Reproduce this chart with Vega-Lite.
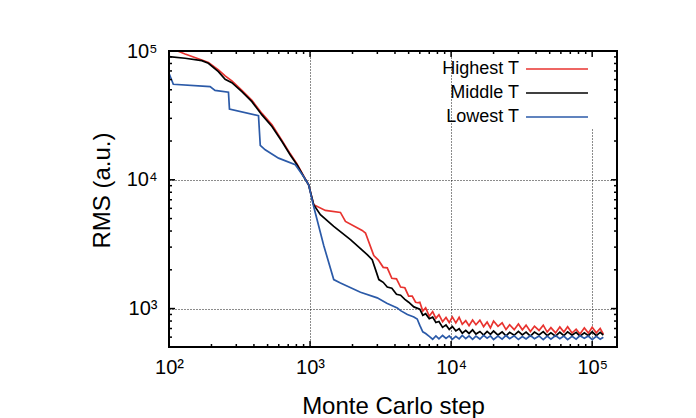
{
"$schema":"https://vega.github.io/schema/vega-lite/v6.json",
"width":448,"height":296,
"autosize":"none",
"padding":{"left":169,"top":51,"right":79,"bottom":71},
"background":"white",
"config":{"view":{"stroke":"#000","strokeWidth":2},"font":"Liberation Sans"},
"datasets":{"curves":[
{"s":"Highest T","x":115,"y":100000},{"s":"Highest T","x":130,"y":94800},{"s":"Highest T","x":170.8,"y":85200},{"s":"Highest T","x":190.2,"y":81400},{"s":"Highest T","x":224,"y":71250},{"s":"Highest T","x":250,"y":64000},{"s":"Highest T","x":279,"y":58550},{"s":"Highest T","x":328.6,"y":49400},{"s":"Highest T","x":387,"y":41330},{"s":"Highest T","x":456,"y":32770},{"s":"Highest T","x":537,"y":26700},{"s":"Highest T","x":632,"y":20240},{"s":"Highest T","x":724,"y":15900},{"s":"Highest T","x":808,"y":13300},{"s":"Highest T","x":900,"y":10700},{"s":"Highest T","x":977,"y":9140},{"s":"Highest T","x":1061,"y":6400},{"s":"Highest T","x":1284,"y":5780},{"s":"Highest T","x":1642,"y":5577},{"s":"Highest T","x":1782,"y":4746},{"s":"Highest T","x":2342,"y":4045},{"s":"Highest T","x":2472,"y":3862},{"s":"Highest T","x":2831,"y":2576},{"s":"Highest T","x":3050,"y":2380},{"s":"Highest T","x":3300,"y":2090},{"s":"Highest T","x":3526,"y":2070},{"s":"Highest T","x":3800,"y":1720},{"s":"Highest T","x":4100,"y":1700},{"s":"Highest T","x":4385,"y":1470},{"s":"Highest T","x":4700,"y":1450},{"s":"Highest T","x":5000,"y":1250},{"s":"Highest T","x":5300,"y":1250},{"s":"Highest T","x":5600,"y":1120},{"s":"Highest T","x":5800,"y":1110},
{"s":"Highest T","x":6000,"y":1118},{"s":"Highest T","x":6300,"y":955},{"s":"Highest T","x":6600,"y":1014},{"s":"Highest T","x":7000,"y":870},{"s":"Highest T","x":7400,"y":947},{"s":"Highest T","x":7800,"y":839},{"s":"Highest T","x":8200,"y":896},{"s":"Highest T","x":8700,"y":790},{"s":"Highest T","x":9200,"y":852},{"s":"Highest T","x":9700,"y":779},{"s":"Highest T","x":10200,"y":862},{"s":"Highest T","x":10800,"y":774},{"s":"Highest T","x":11400,"y":856},{"s":"Highest T","x":12000,"y":755},{"s":"Highest T","x":12700,"y":805},{"s":"Highest T","x":13400,"y":737},{"s":"Highest T","x":14200,"y":816},{"s":"Highest T","x":15000,"y":749},{"s":"Highest T","x":16000,"y":813},{"s":"Highest T","x":17000,"y":724},{"s":"Highest T","x":18000,"y":787},{"s":"Highest T","x":19000,"y":707},{"s":"Highest T","x":20000,"y":800},{"s":"Highest T","x":21500,"y":727},{"s":"Highest T","x":23000,"y":774},{"s":"Highest T","x":24500,"y":687},{"s":"Highest T","x":26000,"y":749},{"s":"Highest T","x":28000,"y":686},{"s":"Highest T","x":30000,"y":760},{"s":"Highest T","x":32000,"y":684},{"s":"Highest T","x":34000,"y":744},{"s":"Highest T","x":36500,"y":663},{"s":"Highest T","x":39000,"y":729},{"s":"Highest T","x":42000,"y":676},{"s":"Highest T","x":45000,"y":743},{"s":"Highest T","x":48000,"y":657},{"s":"Highest T","x":51000,"y":711},{"s":"Highest T","x":55000,"y":647},{"s":"Highest T","x":59000,"y":720},{"s":"Highest T","x":63000,"y":657},{"s":"Highest T","x":67000,"y":723},{"s":"Highest T","x":72000,"y":646},{"s":"Highest T","x":77000,"y":692},{"s":"Highest T","x":82000,"y":635},{"s":"Highest T","x":88000,"y":708},{"s":"Highest T","x":94000,"y":645},{"s":"Highest T","x":100000,"y":717},{"s":"Highest T","x":107000,"y":648},{"s":"Highest T","x":114000,"y":700},{"s":"Highest T","x":120000,"y":633},
{"s":"Middle T","x":100,"y":90400},{"s":"Middle T","x":130,"y":87800},{"s":"Middle T","x":170.8,"y":84100},{"s":"Middle T","x":190.2,"y":80300},{"s":"Middle T","x":224,"y":69100},{"s":"Middle T","x":250,"y":60300},{"s":"Middle T","x":279,"y":56800},{"s":"Middle T","x":328.6,"y":48350},{"s":"Middle T","x":387,"y":40450},{"s":"Middle T","x":456,"y":31900},{"s":"Middle T","x":537,"y":25900},{"s":"Middle T","x":632,"y":19800},{"s":"Middle T","x":724,"y":15600},{"s":"Middle T","x":808,"y":13070},{"s":"Middle T","x":900,"y":10600},{"s":"Middle T","x":977,"y":9140},{"s":"Middle T","x":1061,"y":6400},{"s":"Middle T","x":1184,"y":5355},{"s":"Middle T","x":1472,"y":4345},{"s":"Middle T","x":1934,"y":3428},{"s":"Middle T","x":2542,"y":2622},{"s":"Middle T","x":2758,"y":2399},{"s":"Middle T","x":2912,"y":2006},{"s":"Middle T","x":3074,"y":1679},{"s":"Middle T","x":3300,"y":1600},{"s":"Middle T","x":3526,"y":1470},{"s":"Middle T","x":3800,"y":1440},{"s":"Middle T","x":4100,"y":1290},{"s":"Middle T","x":4385,"y":1270},{"s":"Middle T","x":4700,"y":1180},{"s":"Middle T","x":5000,"y":1120},{"s":"Middle T","x":5445,"y":1030},
{"s":"Middle T","x":6000,"y":989},{"s":"Middle T","x":6300,"y":888},{"s":"Middle T","x":6600,"y":913},{"s":"Middle T","x":7000,"y":834},{"s":"Middle T","x":7400,"y":858},{"s":"Middle T","x":7800,"y":779},{"s":"Middle T","x":8200,"y":793},{"s":"Middle T","x":8700,"y":715},{"s":"Middle T","x":9200,"y":747},{"s":"Middle T","x":9700,"y":689},{"s":"Middle T","x":10200,"y":725},{"s":"Middle T","x":10800,"y":671},{"s":"Middle T","x":11400,"y":697},{"s":"Middle T","x":12000,"y":643},{"s":"Middle T","x":12700,"y":678},{"s":"Middle T","x":13400,"y":641},{"s":"Middle T","x":14200,"y":683},{"s":"Middle T","x":15000,"y":634},{"s":"Middle T","x":16000,"y":664},{"s":"Middle T","x":17000,"y":622},{"s":"Middle T","x":18000,"y":665},{"s":"Middle T","x":19000,"y":631},{"s":"Middle T","x":20000,"y":669},{"s":"Middle T","x":21500,"y":623},{"s":"Middle T","x":23000,"y":660},{"s":"Middle T","x":24500,"y":614},{"s":"Middle T","x":26000,"y":653},{"s":"Middle T","x":28000,"y":620},{"s":"Middle T","x":30000,"y":665},{"s":"Middle T","x":32000,"y":625},{"s":"Middle T","x":34000,"y":657},{"s":"Middle T","x":36500,"y":612},{"s":"Middle T","x":39000,"y":656},{"s":"Middle T","x":42000,"y":624},{"s":"Middle T","x":45000,"y":662},{"s":"Middle T","x":48000,"y":617},{"s":"Middle T","x":51000,"y":649},{"s":"Middle T","x":55000,"y":611},{"s":"Middle T","x":59000,"y":655},{"s":"Middle T","x":63000,"y":616},{"s":"Middle T","x":67000,"y":660},{"s":"Middle T","x":72000,"y":622},{"s":"Middle T","x":77000,"y":654},{"s":"Middle T","x":82000,"y":610},{"s":"Middle T","x":88000,"y":648},{"s":"Middle T","x":94000,"y":616},{"s":"Middle T","x":100000,"y":660},{"s":"Middle T","x":107000,"y":616},{"s":"Middle T","x":114000,"y":654},{"s":"Middle T","x":120000,"y":622},
{"s":"Lowest T","x":100,"y":67200},{"s":"Lowest T","x":107.3,"y":55200},{"s":"Lowest T","x":195.6,"y":52900},{"s":"Lowest T","x":212,"y":49400},{"s":"Lowest T","x":264,"y":47920},{"s":"Lowest T","x":268.3,"y":35380},{"s":"Lowest T","x":431,"y":31450},{"s":"Lowest T","x":443.6,"y":18500},{"s":"Lowest T","x":481,"y":17080},{"s":"Lowest T","x":598,"y":14730},{"s":"Lowest T","x":786,"y":13070},{"s":"Lowest T","x":900,"y":10600},{"s":"Lowest T","x":977,"y":9140},{"s":"Lowest T","x":1061,"y":6210},{"s":"Lowest T","x":1250,"y":3090},{"s":"Lowest T","x":1472,"y":1679},{"s":"Lowest T","x":1642,"y":1582},{"s":"Lowest T","x":2278,"y":1338},{"s":"Lowest T","x":2994,"y":1211},{"s":"Lowest T","x":3500,"y":1100},{"s":"Lowest T","x":4153,"y":1012},{"s":"Lowest T","x":4385,"y":964},{"s":"Lowest T","x":4900,"y":900},{"s":"Lowest T","x":5445,"y":860},{"s":"Lowest T","x":5750,"y":830},
{"s":"Lowest T","x":6000,"y":740},{"s":"Lowest T","x":6300,"y":660},{"s":"Lowest T","x":6600,"y":640},{"s":"Lowest T","x":7000,"y":608},{"s":"Lowest T","x":7400,"y":578},{"s":"Lowest T","x":7800,"y":613},{"s":"Lowest T","x":8200,"y":581},{"s":"Lowest T","x":8700,"y":618},{"s":"Lowest T","x":9200,"y":586},{"s":"Lowest T","x":9700,"y":614},{"s":"Lowest T","x":10200,"y":577},{"s":"Lowest T","x":10800,"y":608},{"s":"Lowest T","x":11400,"y":581},{"s":"Lowest T","x":12000,"y":619},{"s":"Lowest T","x":12700,"y":585},{"s":"Lowest T","x":13400,"y":614},{"s":"Lowest T","x":14200,"y":576},{"s":"Lowest T","x":15000,"y":611},{"s":"Lowest T","x":16000,"y":580},{"s":"Lowest T","x":17000,"y":619},{"s":"Lowest T","x":18000,"y":589},{"s":"Lowest T","x":19000,"y":614},{"s":"Lowest T","x":20000,"y":575},{"s":"Lowest T","x":21500,"y":611},{"s":"Lowest T","x":23000,"y":579},{"s":"Lowest T","x":24500,"y":618},{"s":"Lowest T","x":26000,"y":584},{"s":"Lowest T","x":28000,"y":614},{"s":"Lowest T","x":30000,"y":575},{"s":"Lowest T","x":32000,"y":607},{"s":"Lowest T","x":34000,"y":580},{"s":"Lowest T","x":36500,"y":617},{"s":"Lowest T","x":39000,"y":584},{"s":"Lowest T","x":42000,"y":613},{"s":"Lowest T","x":45000,"y":574},{"s":"Lowest T","x":48000,"y":611},{"s":"Lowest T","x":51000,"y":579},{"s":"Lowest T","x":55000,"y":617},{"s":"Lowest T","x":59000,"y":584},{"s":"Lowest T","x":63000,"y":612},{"s":"Lowest T","x":67000,"y":574},{"s":"Lowest T","x":72000,"y":609},{"s":"Lowest T","x":77000,"y":578},{"s":"Lowest T","x":82000,"y":616},{"s":"Lowest T","x":88000,"y":587},{"s":"Lowest T","x":94000,"y":611},{"s":"Lowest T","x":100000,"y":574},{"s":"Lowest T","x":107000,"y":608},{"s":"Lowest T","x":114000,"y":578},{"s":"Lowest T","x":120000,"y":599}
],
"xticks":[{"v":100,"k":"major"},{"v":200,"k":"minor"},{"v":300,"k":"minor"},{"v":400,"k":"minor"},{"v":500,"k":"minor"},{"v":600,"k":"minor"},{"v":700,"k":"minor"},{"v":800,"k":"minor"},{"v":900,"k":"minor"},{"v":1000,"k":"major"},{"v":2000,"k":"minor"},{"v":3000,"k":"minor"},{"v":4000,"k":"minor"},{"v":5000,"k":"minor"},{"v":6000,"k":"minor"},{"v":7000,"k":"minor"},{"v":8000,"k":"minor"},{"v":9000,"k":"minor"},{"v":10000,"k":"major"},{"v":20000,"k":"minor"},{"v":30000,"k":"minor"},{"v":40000,"k":"minor"},{"v":50000,"k":"minor"},{"v":60000,"k":"minor"},{"v":70000,"k":"minor"},{"v":80000,"k":"minor"},{"v":90000,"k":"minor"},{"v":100000,"k":"major"}],
"yticks":[{"v":600,"k":"minor"},{"v":700,"k":"minor"},{"v":800,"k":"minor"},{"v":900,"k":"minor"},{"v":1000,"k":"major"},{"v":2000,"k":"minor"},{"v":3000,"k":"minor"},{"v":4000,"k":"minor"},{"v":5000,"k":"minor"},{"v":6000,"k":"minor"},{"v":7000,"k":"minor"},{"v":8000,"k":"minor"},{"v":9000,"k":"minor"},{"v":10000,"k":"major"},{"v":20000,"k":"minor"},{"v":30000,"k":"minor"},{"v":40000,"k":"minor"},{"v":50000,"k":"minor"},{"v":60000,"k":"minor"},{"v":70000,"k":"minor"},{"v":80000,"k":"minor"},{"v":90000,"k":"minor"},{"v":100000,"k":"major"}],
"frame":[{"x0":100,"x1":150000,"y0":503,"y1":100000}]
},
"layer":[
{"data":{"name":"curves"},
 "mark":{"type":"line"},
 "encoding":{
  "x":{"field":"x","type":"quantitative","scale":{"type":"log","domain":[100,150000],"nice":false},
   "axis":{"orient":"bottom","values":[100,1000,10000,100000],
    "labelExpr":"datum.value==100?'10²':datum.value==1000?'10³':datum.value==10000?'10⁴':'10⁵'",
    "labelFont":"Liberation Sans","labelFontSize":20,"labelColor":"#000","labelPadding":10,"labelFlush":false,"labelOverlap":false,
    "ticks":false,"tickSize":0,"domain":false,
    "grid":true,"gridColor":"#000","gridDash":[1,2],"gridWidth":1,"gridOpacity":0.9,
    "title":"Monte Carlo step","titleFont":"Liberation Sans","titleFontSize":24,"titleFontWeight":"normal","titleColor":"#000","titlePadding":17,"zindex":0}},
  "y":{"field":"y","type":"quantitative","scale":{"type":"log","domain":[503,100000],"nice":false},
   "axis":{"orient":"left","values":[1000,10000,100000],
    "labelExpr":"datum.value==1000?'10³':datum.value==10000?'10⁴':'10⁵'",
    "labelFont":"Liberation Sans","labelFontSize":20,"labelColor":"#000","labelPadding":12,"labelFlush":false,"labelOverlap":false,
    "ticks":false,"tickSize":0,"domain":false,
    "grid":true,"gridColor":"#000","gridDash":[1,2],"gridWidth":1,"gridOpacity":0.9,
    "title":"RMS (a.u.)","titleFont":"Liberation Sans","titleFontSize":24,"titleFontWeight":"normal","titleColor":"#000","titlePadding":12,"titleY":139,"zindex":0}},
  "color":{"field":"s","type":"nominal","scale":{"domain":["Highest T","Middle T","Lowest T"],"range":["#e8332f","#000000","#2b5aa8"]},
   "legend":{"orient":"none","legendX":376,"legendY":6,"title":null,"symbolType":"M-4,0H4","symbolSize":240,"rowPadding":6,"labelFont":"Liberation Sans","labelFontSize":18,"labelColor":"#000","labelAlign":"right","labelOffset":-47,"fillColor":"white","padding":3,"zindex":1}},
  "strokeWidth":{"field":"s","type":"nominal","scale":{"domain":["Highest T","Middle T","Lowest T"],"range":[1.7,1.7,3]}}
 }},
{"data":{"name":"xticks"},
 "mark":{"type":"tick","orient":"vertical","thickness":1.5,"color":"#000","opacity":1,"clip":true},
 "encoding":{
  "x":{"field":"v","type":"quantitative","scale":{"type":"log","domain":[100,150000],"nice":false},"axis":null},
  "y":{"datum":503,"type":"quantitative","scale":{"type":"log","domain":[503,100000],"nice":false},"axis":null},
  "size":{"field":"k","type":"nominal","scale":{"domain":["major","minor"],"range":[12,6]},"legend":null}
 }},
{"data":{"name":"xticks"},
 "mark":{"type":"tick","orient":"vertical","thickness":1.5,"color":"#000","opacity":1,"clip":true},
 "encoding":{
  "x":{"field":"v","type":"quantitative","scale":{"type":"log","domain":[100,150000],"nice":false},"axis":null},
  "y":{"datum":100000,"type":"quantitative","scale":{"type":"log","domain":[503,100000],"nice":false},"axis":null},
  "size":{"field":"k","type":"nominal","scale":{"domain":["major","minor"],"range":[12,6]},"legend":null}
 }},
{"data":{"name":"yticks"},
 "mark":{"type":"tick","orient":"horizontal","thickness":1.5,"color":"#000","opacity":1,"clip":true},
 "encoding":{
  "y":{"field":"v","type":"quantitative","scale":{"type":"log","domain":[503,100000],"nice":false},"axis":null},
  "x":{"datum":100,"type":"quantitative","scale":{"type":"log","domain":[100,150000],"nice":false},"axis":null},
  "size":{"field":"k","type":"nominal","scale":{"domain":["major","minor"],"range":[12,6]},"legend":null}
 }},
{"data":{"name":"yticks"},
 "mark":{"type":"tick","orient":"horizontal","thickness":1.5,"color":"#000","opacity":1,"clip":true},
 "encoding":{
  "y":{"field":"v","type":"quantitative","scale":{"type":"log","domain":[503,100000],"nice":false},"axis":null},
  "x":{"datum":150000,"type":"quantitative","scale":{"type":"log","domain":[100,150000],"nice":false},"axis":null},
  "size":{"field":"k","type":"nominal","scale":{"domain":["major","minor"],"range":[12,6]},"legend":null}
 }},
{"data":{"name":"frame"},
 "mark":{"type":"rect","filled":false,"color":"#000","strokeWidth":2,"opacity":1},
 "encoding":{
  "x":{"field":"x0","type":"quantitative","scale":{"type":"log","domain":[100,150000],"nice":false},"axis":null},
  "x2":{"field":"x1"},
  "y":{"field":"y0","type":"quantitative","scale":{"type":"log","domain":[503,100000],"nice":false},"axis":null},
  "y2":{"field":"y1"}
 }}
],
"resolve":{"axis":{"x":"independent","y":"independent"}}
}
